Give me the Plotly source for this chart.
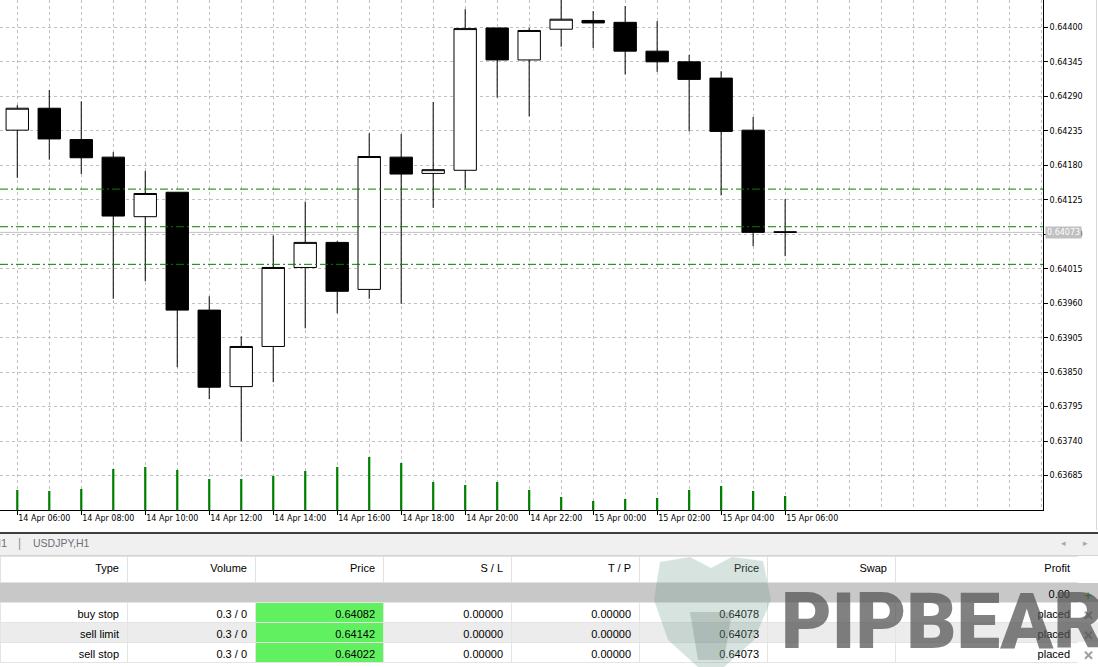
import plotly.graph_objects as go
import pandas as pd

# ---------------- data ----------------
times = pd.date_range("2020-04-14 06:00", periods=25, freq="h")
opens = [0.64236, 0.64271, 0.64221, 0.64193, 0.64098, 0.64137, 0.63949, 0.63827, 0.63891, 0.64017,
         0.64057, 0.63982, 0.64193, 0.64167, 0.64172, 0.64399, 0.64348, 0.64397, 0.64411, 0.64408,
         0.64362, 0.64345, 0.64319, 0.64236, 0.64074]
highs = [0.64276, 0.64300, 0.64282, 0.64201, 0.64171, 0.64137, 0.63971, 0.63907, 0.64068, 0.64122,
         0.64059, 0.64231, 0.64230, 0.64281, 0.64429, 0.64399, 0.64399, 0.64445, 0.64426, 0.64434,
         0.64410, 0.64356, 0.64330, 0.64257, 0.64126]
lows = [0.64160, 0.64189, 0.64166, 0.63967, 0.63995, 0.63858, 0.63807, 0.63740, 0.63834, 0.63920,
        0.63944, 0.63967, 0.63959, 0.64112, 0.64143, 0.64288, 0.64258, 0.64369, 0.64367, 0.64325,
        0.64329, 0.64234, 0.64132, 0.64051, 0.64035]
closes = [0.64271, 0.64222, 0.64192, 0.64099, 0.64135, 0.63949, 0.63826, 0.63891, 0.64017, 0.64057,
          0.63979, 0.64194, 0.64166, 0.64173, 0.64398, 0.64348, 0.64395, 0.64413, 0.64407, 0.64362,
          0.64345, 0.64317, 0.64234, 0.64073, 0.64073]
tick_volumes = [200, 190, 210, 410, 430, 400, 310, 310, 340, 390, 430, 530, 470, 280, 250, 280,
                200, 130, 90, 110, 120, 200, 240, 190, 140]

# pending orders table
order_types = ["buy stop", "sell limit", "sell stop"]
order_volumes = ["0.3 / 0", "0.3 / 0", "0.3 / 0"]
order_prices = [0.64082, 0.64142, 0.64022]
order_sl = [0.0, 0.0, 0.0]
order_tp = [0.0, 0.0, 0.0]
market_prices = [0.64078, 0.64073, 0.64073]
order_status = ["placed", "placed", "placed"]
total_profit = 0.00
table_headers = ["Type", "Volume", "Price", "S / L", "T / P", "Price", "Swap", "Profit", ""]

symbol_tab = "USDJPY,H1"

# ---------------- geometry helpers (figure pixels -> paper) ----------------
W, H = 1098, 667
PLOT_R, PLOT_B = 1043, 510


def px(x):
    return x / W


def py(y):
    return 1 - y / H


HOUR = 3600000
t0 = times[0]
x_range = [t0 - pd.Timedelta(hours=0.54), t0 + pd.Timedelta(hours=32.06)]
y_range = [0.636302, 0.644436]
label_times = list(times[::2])

GRID = "#c0c0c0"
AXFONT = dict(family="DejaVu Sans", size=8, color="black")
TBLFONT = dict(family="Liberation Sans", size=11, color="black")

fig = go.Figure()

fig.add_trace(go.Bar(
    x=times, y=tick_volumes, yaxis="y2",
    marker=dict(color="#008000", line=dict(width=0)),
    width=0.07 * HOUR, hoverinfo="skip", showlegend=False,
))

fig.add_trace(go.Candlestick(
    x=times, open=opens, high=highs, low=lows, close=closes,
    increasing=dict(line=dict(color="black", width=1), fillcolor="white"),
    decreasing=dict(line=dict(color="black", width=1), fillcolor="black"),
    whiskerwidth=0, showlegend=False,
))

# ---------------- table ----------------
n = len(order_types)
ncol = len(table_headers)
col_values = [
    [""] + order_types,
    [""] + order_volumes,
    [""] + [f"{p:.5f}" for p in order_prices],
    [""] + [f"{v:.5f}" for v in order_sl],
    [""] + [f"{v:.5f}" for v in order_tp],
    [""] + [f"{v:.5f}" for v in market_prices],
    [""] * (n + 1),
    [f"{total_profit:.2f}"] + order_status,
    ["+"] + ["✕"] * n,
]
row_fill = ["#c8c8c8", "white", "#ececec", "white"]
fills = []
for j in range(ncol):
    if j == 2:
        fills.append(["#c8c8c8"] + ["#60f060"] * n)
    else:
        fills.append(row_fill)
lines = [["#c8c8c8"] + ["#e4e4e4"] * n for _ in range(ncol - 1)] + [row_fill]
font_colors = [["black"] * (n + 1) for _ in range(ncol - 1)] + [["#2e9e2e"] + ["#9a9a9a"] * n]
aligns = ["right"] * (ncol - 1) + ["center"]

fig.add_trace(go.Table(
    domain=dict(x=[0, 1], y=[0, py(556)]),
    columnwidth=[127, 128, 128, 128, 128, 128, 128, 183, 20],
    header=dict(values=table_headers, fill_color="white",
                line=dict(color=["#e2e2e2"] * (ncol - 1) + ["white"], width=1),
                align="right", font=TBLFONT, height=26),
    cells=dict(values=col_values, fill_color=fills, line=dict(color=lines, width=1),
               align=aligns,
               font=dict(family="Liberation Sans", size=[11] * (ncol - 1) + [13],
                         color=font_colors, weight=[400] * (ncol - 1) + [700]),
               height=20),
))

# ---------------- shapes ----------------
shapes = []
for p in order_prices:
    shapes.append(dict(type="line", xref="x domain", yref="y", x0=0, x1=1, y0=p, y1=p,
                       line=dict(color="#008000", width=1, dash="8px,3px,2px,3px")))
bid = closes[-1]
shapes.append(dict(type="line", xref="x domain", yref="y", x0=0, x1=1, y0=bid, y1=bid,
                   line=dict(color="#c0c0c0", width=1), layer="below"))
# terminal / tab bar decoration
shapes.append(dict(type="rect", xref="paper", yref="paper", x0=0, x1=1, y0=py(555), y1=py(533.5),
                   fillcolor="#f0f0f0", line=dict(width=0)))
shapes.append(dict(type="line", xref="paper", yref="paper", x0=0, x1=1, y0=py(533), y1=py(533),
                   line=dict(color="black", width=1.5)))
shapes.append(dict(type="line", xref="paper", yref="paper", x0=0, x1=1, y0=py(555.5), y1=py(555.5),
                   line=dict(color="#d4d4d4", width=1)))
shapes.append(dict(type="line", xref="paper", yref="paper", x0=px(1096.5), x1=px(1096.5),
                   y0=py(0), y1=py(530), line=dict(color="#d8d8d8", width=1)))
# watermark bear head (faint polygon)
head = [(660, 562), (690, 557), (711, 568), (732, 557), (763, 561), (771, 600), (754, 640),
        (724, 667), (698, 667), (668, 640), (654, 600)]
path = "M " + " L ".join(f"{px(x):.5f},{py(y):.5f}" for x, y in head) + " Z"
shapes.append(dict(type="path", xref="paper", yref="paper", path=path,
                   fillcolor="rgba(110,155,140,0.28)", line=dict(width=0), layer="above"))
snout = [(690, 612), (732, 612), (724, 660), (698, 660)]
path2 = "M " + " L ".join(f"{px(x):.5f},{py(y):.5f}" for x, y in snout) + " Z"
shapes.append(dict(type="path", xref="paper", yref="paper", path=path2,
                   fillcolor="rgba(90,110,105,0.25)", line=dict(width=0), layer="above"))

annotations = [
    dict(xref="paper", yref="y", x=px(1045), y=bid, text=f"{bid:.5f}", showarrow=False,
         xanchor="left", yanchor="middle", bgcolor="#c0c0c0", borderpad=1,
         font=dict(family="DejaVu Sans", size=8, color="white")),
    dict(xref="paper", yref="paper", x=px(9), y=py(543), text="H1", showarrow=False,
         xanchor="right", yanchor="middle", font=dict(family="Liberation Sans", size=11, color="#707070")),
    dict(xref="paper", yref="paper", x=px(19), y=py(543), text="|", showarrow=False,
         xanchor="center", yanchor="middle", font=dict(family="Liberation Sans", size=12, color="#909090")),
    dict(xref="paper", yref="paper", x=px(31), y=py(543), text=symbol_tab, showarrow=False,
         xanchor="left", yanchor="middle", font=dict(family="Liberation Sans", size=10.5, color="#6e6e78")),
    dict(xref="paper", yref="paper", x=px(1063), y=py(543), text="◂", showarrow=False,
         xanchor="center", yanchor="middle", font=dict(family="DejaVu Sans", size=9, color="#a8a8a8")),
    dict(xref="paper", yref="paper", x=px(1085), y=py(543), text="▸", showarrow=False,
         xanchor="center", yanchor="middle", font=dict(family="DejaVu Sans", size=9, color="#a8a8a8")),
    dict(xref="paper", yref="paper", x=px(942), y=py(621), text="PIPBEAR", showarrow=False,
         xanchor="center", yanchor="middle",
         font=dict(family="Roboto", size=78, weight=900, color="rgba(80,80,80,0.72)")),
]

fig.update_layout(
    width=W, height=H, margin=dict(l=0, r=0, t=0, b=0, autoexpand=False),
    paper_bgcolor="white", plot_bgcolor="white", showlegend=False,
    boxgap=0.3, boxgroupgap=0,
    shapes=shapes, annotations=annotations,
    xaxis=dict(
        domain=[0, px(PLOT_R)], type="date", range=x_range, automargin=False,
        rangeslider=dict(visible=False),
        tickmode="array", tickvals=label_times,
        tickformat="%d %b %H:%M", tickangle=0,
        ticks="outside", ticklen=4, tickcolor="black", tickwidth=1,
        ticklabelposition="outside right", tickfont=AXFONT,
        showline=True, linecolor="black", linewidth=1,
        showgrid=True, gridcolor=GRID, griddash="3px,3px", gridwidth=1,
        minor=dict(dtick=HOUR, tick0=t0, showgrid=True, gridcolor=GRID, griddash="3px,3px", ticks=""),
        zeroline=False, fixedrange=True,
    ),
    yaxis=dict(
        domain=[py(PLOT_B), 1], range=y_range, side="right", automargin=False,
        tick0=0.63685, dtick=0.00055, tickformat=".5f",
        ticks="outside", ticklen=4, tickcolor="black", tickwidth=1, tickfont=AXFONT,
        showline=True, linecolor="black", linewidth=1,
        showgrid=True, gridcolor=GRID, griddash="3px,3px", gridwidth=1,
        zeroline=False, fixedrange=True,
    ),
    yaxis2=dict(overlaying="y", range=[0, 5100], visible=False, fixedrange=True),
)

fig.write_html("out.html", config={"displayModeBar": False},
               post_script="document.body.style.margin='0px';")
